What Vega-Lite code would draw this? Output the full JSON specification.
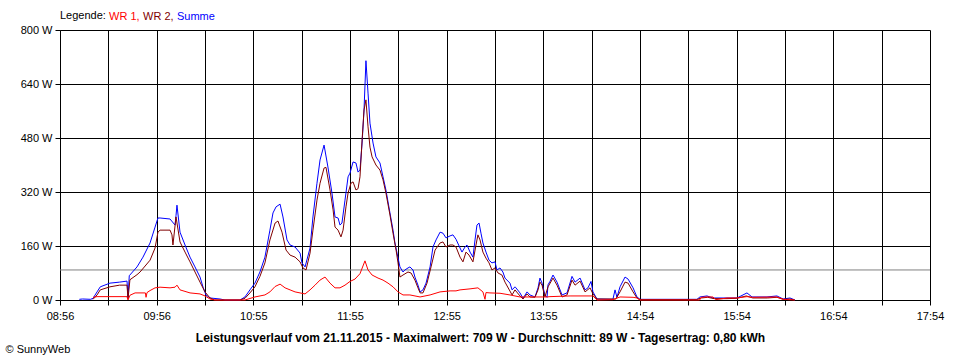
{
  "$schema": "https://vega.github.io/schema/vega-lite/v6.json",
  "width": 870,
  "height": 270,
  "autosize": "none",
  "padding": {"left": 60, "top": 30, "right": 30, "bottom": 60},
  "background": "white",
  "config": {
    "view": {"stroke": null},
    "font": "Liberation Sans",
    "axis": {
      "gridColor": "#000000", "gridOpacity": 1, "gridWidth": 1,
      "domainColor": "#000000", "tickColor": "#000000", "tickSize": 5,
      "labelColor": "#000000", "labelFont": "Liberation Sans", "labelFontSize": 11,
      "titleColor": "#000000", "titleFont": "Liberation Sans", "titleFontSize": 11
    }
  },
  "layer": [
    {
      "data": {"values": [{"avg": 89}]},
      "mark": {"type": "rule", "color": "#808080", "strokeWidth": 1},
      "encoding": {"y": {"field": "avg", "type": "quantitative", "scale": {"domain": [0, 800], "nice": false}}}
    },
    {
      "data": {"values": [
{"t":12,"s":"Summe","w":2},{"t":14,"s":"Summe","w":3},{"t":19,"s":"Summe","w":2},{"t":20.5,"s":"Summe","w":5},{"t":23,"s":"Summe","w":24},{"t":25,"s":"Summe","w":39},{"t":31,"s":"Summe","w":50},{"t":37,"s":"Summe","w":53},{"t":41.6,"s":"Summe","w":56},{"t":42.2,"s":"Summe","w":5},{"t":43,"s":"Summe","w":72},{"t":47.8,"s":"Summe","w":98},{"t":51.5,"s":"Summe","w":127},{"t":55.9,"s":"Summe","w":169},{"t":59,"s":"Summe","w":216},{"t":60.8,"s":"Summe","w":243},{"t":62.1,"s":"Summe","w":243},{"t":68.3,"s":"Summe","w":240},{"t":71.4,"s":"Summe","w":222},{"t":72,"s":"Summe","w":250},{"t":72.6,"s":"Summe","w":281},{"t":74.5,"s":"Summe","w":201},{"t":77.6,"s":"Summe","w":163},{"t":80.7,"s":"Summe","w":127},{"t":83.8,"s":"Summe","w":98},{"t":86.9,"s":"Summe","w":68},{"t":88.8,"s":"Summe","w":38},{"t":90.6,"s":"Summe","w":15},{"t":93.1,"s":"Summe","w":6},{"t":99.3,"s":"Summe","w":3},{"t":102.4,"s":"Summe","w":0},{"t":111.7,"s":"Summe","w":0},{"t":114.8,"s":"Summe","w":9},{"t":117.9,"s":"Summe","w":30},{"t":121,"s":"Summe","w":50},{"t":124.1,"s":"Summe","w":83},{"t":127.2,"s":"Summe","w":127},{"t":130.3,"s":"Summe","w":207},{"t":132.2,"s":"Summe","w":258},{"t":134.1,"s":"Summe","w":276},{"t":136.6,"s":"Summe","w":284},{"t":138.4,"s":"Summe","w":246},{"t":140.9,"s":"Summe","w":178},{"t":142.8,"s":"Summe","w":163},{"t":145.9,"s":"Summe","w":157},{"t":149,"s":"Summe","w":139},{"t":150.2,"s":"Summe","w":110},{"t":152.1,"s":"Summe","w":98},{"t":155.2,"s":"Summe","w":154},{"t":157,"s":"Summe","w":246},{"t":159.5,"s":"Summe","w":346},{"t":161.4,"s":"Summe","w":415},{"t":163.9,"s":"Summe","w":459},{"t":166.3,"s":"Summe","w":394},{"t":168.8,"s":"Summe","w":317},{"t":170.7,"s":"Summe","w":246},{"t":172.6,"s":"Summe","w":243},{"t":173.8,"s":"Summe","w":222},{"t":175,"s":"Summe","w":228},{"t":176.9,"s":"Summe","w":296},{"t":178.8,"s":"Summe","w":365},{"t":180,"s":"Summe","w":376},{"t":181.9,"s":"Summe","w":409},{"t":183.7,"s":"Summe","w":406},{"t":185,"s":"Summe","w":379},{"t":186.2,"s":"Summe","w":385},{"t":187.5,"s":"Summe","w":465},{"t":188.7,"s":"Summe","w":563},{"t":189.9,"s":"Summe","w":709},{"t":191.2,"s":"Summe","w":613},{"t":192.4,"s":"Summe","w":524},{"t":194.3,"s":"Summe","w":465},{"t":196.1,"s":"Summe","w":424},{"t":198.6,"s":"Summe","w":406},{"t":200.5,"s":"Summe","w":365},{"t":202.3,"s":"Summe","w":326},{"t":204.8,"s":"Summe","w":258},{"t":206.7,"s":"Summe","w":207},{"t":207.9,"s":"Summe","w":169},{"t":209.2,"s":"Summe","w":139},{"t":211,"s":"Summe","w":98},{"t":212.9,"s":"Summe","w":83},{"t":214.1,"s":"Summe","w":89},{"t":216,"s":"Summe","w":95},{"t":217.2,"s":"Summe","w":98},{"t":219.1,"s":"Summe","w":89},{"t":220.3,"s":"Summe","w":68},{"t":222.2,"s":"Summe","w":44},{"t":223.5,"s":"Summe","w":24},{"t":225.3,"s":"Summe","w":30},{"t":227.2,"s":"Summe","w":50},{"t":229.7,"s":"Summe","w":98},{"t":231.5,"s":"Summe","w":157},{"t":233.4,"s":"Summe","w":178},{"t":235.9,"s":"Summe","w":201},{"t":237.7,"s":"Summe","w":198},{"t":239.6,"s":"Summe","w":184},{"t":242.1,"s":"Summe","w":190},{"t":243.9,"s":"Summe","w":193},{"t":245.8,"s":"Summe","w":180},{"t":248.3,"s":"Summe","w":154},{"t":249.5,"s":"Summe","w":142},{"t":251.4,"s":"Summe","w":157},{"t":252.6,"s":"Summe","w":163},{"t":254.5,"s":"Summe","w":142},{"t":256.3,"s":"Summe","w":127},{"t":257.6,"s":"Summe","w":178},{"t":258.8,"s":"Summe","w":222},{"t":260.1,"s":"Summe","w":228},{"t":261.3,"s":"Summe","w":198},{"t":262.5,"s":"Summe","w":169},{"t":264.4,"s":"Summe","w":142},{"t":266.3,"s":"Summe","w":118},{"t":268.1,"s":"Summe","w":110},{"t":270,"s":"Summe","w":113},{"t":271.2,"s":"Summe","w":89},{"t":273.1,"s":"Summe","w":95},{"t":274.9,"s":"Summe","w":83},{"t":276.2,"s":"Summe","w":65},{"t":279.3,"s":"Summe","w":50},{"t":280.6,"s":"Summe","w":30},{"t":282.4,"s":"Summe","w":39},{"t":283,"s":"Summe","w":36},{"t":285.5,"s":"Summe","w":21},{"t":287.4,"s":"Summe","w":5},{"t":289.9,"s":"Summe","w":24},{"t":291.7,"s":"Summe","w":15},{"t":294.8,"s":"Summe","w":9},{"t":296.7,"s":"Summe","w":36},{"t":297.9,"s":"Summe","w":65},{"t":299.2,"s":"Summe","w":50},{"t":301,"s":"Summe","w":15},{"t":302.3,"s":"Summe","w":8},{"t":302.9,"s":"Summe","w":45},{"t":304.1,"s":"Summe","w":55},{"t":306,"s":"Summe","w":74},{"t":308.5,"s":"Summe","w":53},{"t":311.6,"s":"Summe","w":15},{"t":314.7,"s":"Summe","w":21},{"t":317.8,"s":"Summe","w":70},{"t":319.7,"s":"Summe","w":53},{"t":322.8,"s":"Summe","w":65},{"t":325.9,"s":"Summe","w":30},{"t":327.7,"s":"Summe","w":36},{"t":329.6,"s":"Summe","w":55},{"t":330.8,"s":"Summe","w":24},{"t":333.3,"s":"Summe","w":3},{"t":343.2,"s":"Summe","w":2},{"t":344.5,"s":"Summe","w":30},{"t":345.7,"s":"Summe","w":8},{"t":347.6,"s":"Summe","w":39},{"t":350.7,"s":"Summe","w":68},{"t":352.6,"s":"Summe","w":62},{"t":355.7,"s":"Summe","w":36},{"t":358.1,"s":"Summe","w":9},{"t":360,"s":"Summe","w":2},{"t":395.4,"s":"Summe","w":2},{"t":397.2,"s":"Summe","w":9},{"t":401.6,"s":"Summe","w":12},{"t":405.3,"s":"Summe","w":6},{"t":414,"s":"Summe","w":6},{"t":420.2,"s":"Summe","w":6},{"t":426.4,"s":"Summe","w":21},{"t":429.5,"s":"Summe","w":9},{"t":432.6,"s":"Summe","w":9},{"t":438.8,"s":"Summe","w":9},{"t":445,"s":"Summe","w":12},{"t":448.8,"s":"Summe","w":3},{"t":453.1,"s":"Summe","w":6},{"t":456.2,"s":"Summe","w":0},
{"t":20.5,"s":"WR 2","w":2},{"t":23,"s":"WR 2","w":15},{"t":25,"s":"WR 2","w":30},{"t":31,"s":"WR 2","w":39},{"t":37,"s":"WR 2","w":44},{"t":41.6,"s":"WR 2","w":44},{"t":42.2,"s":"WR 2","w":3},{"t":43.4,"s":"WR 2","w":60},{"t":47.8,"s":"WR 2","w":75},{"t":49.7,"s":"WR 2","w":83},{"t":55.9,"s":"WR 2","w":118},{"t":59,"s":"WR 2","w":154},{"t":60.8,"s":"WR 2","w":201},{"t":62.1,"s":"WR 2","w":207},{"t":68.3,"s":"WR 2","w":207},{"t":69.5,"s":"WR 2","w":193},{"t":70.1,"s":"WR 2","w":163},{"t":72,"s":"WR 2","w":246},{"t":74.5,"s":"WR 2","w":172},{"t":77.6,"s":"WR 2","w":142},{"t":80.7,"s":"WR 2","w":113},{"t":83.8,"s":"WR 2","w":83},{"t":86.9,"s":"WR 2","w":53},{"t":90,"s":"WR 2","w":24},{"t":93.1,"s":"WR 2","w":6},{"t":96,"s":"WR 2","w":0},{"t":111.7,"s":"WR 2","w":0},{"t":114.8,"s":"WR 2","w":5},{"t":117.9,"s":"WR 2","w":21},{"t":121,"s":"WR 2","w":39},{"t":124.1,"s":"WR 2","w":70},{"t":127.2,"s":"WR 2","w":110},{"t":130.3,"s":"WR 2","w":178},{"t":133.5,"s":"WR 2","w":228},{"t":135.3,"s":"WR 2","w":234},{"t":137.8,"s":"WR 2","w":201},{"t":140.3,"s":"WR 2","w":148},{"t":142.8,"s":"WR 2","w":133},{"t":145.9,"s":"WR 2","w":127},{"t":149,"s":"WR 2","w":113},{"t":150.8,"s":"WR 2","w":95},{"t":152.7,"s":"WR 2","w":89},{"t":155.2,"s":"WR 2","w":139},{"t":157,"s":"WR 2","w":207},{"t":159.5,"s":"WR 2","w":296},{"t":161.4,"s":"WR 2","w":346},{"t":163.9,"s":"WR 2","w":391},{"t":165.1,"s":"WR 2","w":393},{"t":167.6,"s":"WR 2","w":326},{"t":169.5,"s":"WR 2","w":267},{"t":170.7,"s":"WR 2","w":216},{"t":172.6,"s":"WR 2","w":207},{"t":174.4,"s":"WR 2","w":187},{"t":175.7,"s":"WR 2","w":207},{"t":177.5,"s":"WR 2","w":276},{"t":178.8,"s":"WR 2","w":317},{"t":180.6,"s":"WR 2","w":346},{"t":181.9,"s":"WR 2","w":350},{"t":183.7,"s":"WR 2","w":326},{"t":185,"s":"WR 2","w":330},{"t":186.2,"s":"WR 2","w":365},{"t":187.5,"s":"WR 2","w":474},{"t":188.7,"s":"WR 2","w":563},{"t":189.9,"s":"WR 2","w":593},{"t":191.2,"s":"WR 2","w":513},{"t":192.4,"s":"WR 2","w":453},{"t":193.7,"s":"WR 2","w":424},{"t":196.1,"s":"WR 2","w":400},{"t":198.6,"s":"WR 2","w":385},{"t":200.5,"s":"WR 2","w":356},{"t":202.3,"s":"WR 2","w":317},{"t":204.8,"s":"WR 2","w":252},{"t":206.7,"s":"WR 2","w":198},{"t":208.6,"s":"WR 2","w":148},{"t":209.8,"s":"WR 2","w":110},{"t":211,"s":"WR 2","w":68},{"t":212.9,"s":"WR 2","w":74},{"t":216,"s":"WR 2","w":83},{"t":217.9,"s":"WR 2","w":80},{"t":220.3,"s":"WR 2","w":59},{"t":222.2,"s":"WR 2","w":36},{"t":223.5,"s":"WR 2","w":21},{"t":225.3,"s":"WR 2","w":21},{"t":227.8,"s":"WR 2","w":50},{"t":230.3,"s":"WR 2","w":98},{"t":232.8,"s":"WR 2","w":148},{"t":235.9,"s":"WR 2","w":169},{"t":237.7,"s":"WR 2","w":172},{"t":239.6,"s":"WR 2","w":157},{"t":242.1,"s":"WR 2","w":163},{"t":243.9,"s":"WR 2","w":163},{"t":245.8,"s":"WR 2","w":157},{"t":248.3,"s":"WR 2","w":127},{"t":250.1,"s":"WR 2","w":113},{"t":252,"s":"WR 2","w":142},{"t":253.9,"s":"WR 2","w":133},{"t":256.3,"s":"WR 2","w":113},{"t":258.2,"s":"WR 2","w":163},{"t":259.4,"s":"WR 2","w":193},{"t":260.7,"s":"WR 2","w":178},{"t":262.5,"s":"WR 2","w":142},{"t":264.4,"s":"WR 2","w":124},{"t":266.3,"s":"WR 2","w":110},{"t":268.1,"s":"WR 2","w":89},{"t":270,"s":"WR 2","w":95},{"t":271.9,"s":"WR 2","w":80},{"t":274.3,"s":"WR 2","w":74},{"t":276.2,"s":"WR 2","w":53},{"t":280.6,"s":"WR 2","w":15},{"t":282.4,"s":"WR 2","w":30},{"t":285.5,"s":"WR 2","w":12},{"t":287.4,"s":"WR 2","w":3},{"t":289.9,"s":"WR 2","w":18},{"t":291.7,"s":"WR 2","w":9},{"t":294.8,"s":"WR 2","w":8},{"t":296.7,"s":"WR 2","w":30},{"t":297.9,"s":"WR 2","w":53},{"t":299.2,"s":"WR 2","w":44},{"t":301,"s":"WR 2","w":9},{"t":302.9,"s":"WR 2","w":39},{"t":306,"s":"WR 2","w":65},{"t":308.5,"s":"WR 2","w":44},{"t":311.6,"s":"WR 2","w":9},{"t":314.7,"s":"WR 2","w":15},{"t":317.8,"s":"WR 2","w":59},{"t":319.7,"s":"WR 2","w":44},{"t":322.8,"s":"WR 2","w":56},{"t":325.9,"s":"WR 2","w":24},{"t":329,"s":"WR 2","w":36},{"t":330.8,"s":"WR 2","w":18},{"t":333.3,"s":"WR 2","w":3},{"t":345,"s":"WR 2","w":3},{"t":347.6,"s":"WR 2","w":24},{"t":350.7,"s":"WR 2","w":53},{"t":352.6,"s":"WR 2","w":50},{"t":355.7,"s":"WR 2","w":24},{"t":358.1,"s":"WR 2","w":6},{"t":360,"s":"WR 2","w":1},{"t":395,"s":"WR 2","w":1},{"t":398,"s":"WR 2","w":6},{"t":402,"s":"WR 2","w":8},{"t":406,"s":"WR 2","w":4},{"t":414,"s":"WR 2","w":4},{"t":420,"s":"WR 2","w":5},{"t":426,"s":"WR 2","w":12},{"t":430,"s":"WR 2","w":6},{"t":439,"s":"WR 2","w":6},{"t":445,"s":"WR 2","w":8},{"t":449,"s":"WR 2","w":2},{"t":453,"s":"WR 2","w":3},{"t":456,"s":"WR 2","w":0},
{"t":20.5,"s":"WR 1","w":8},{"t":23,"s":"WR 1","w":10},{"t":41.6,"s":"WR 1","w":10},{"t":42.2,"s":"WR 1","w":0},{"t":43.4,"s":"WR 1","w":14},{"t":46.6,"s":"WR 1","w":21},{"t":53,"s":"WR 1","w":21},{"t":53.4,"s":"WR 1","w":8},{"t":54,"s":"WR 1","w":22},{"t":55.9,"s":"WR 1","w":28},{"t":59,"s":"WR 1","w":36},{"t":62.1,"s":"WR 1","w":38},{"t":68.3,"s":"WR 1","w":36},{"t":71.4,"s":"WR 1","w":38},{"t":72.6,"s":"WR 1","w":44},{"t":74.5,"s":"WR 1","w":30},{"t":80.7,"s":"WR 1","w":21},{"t":86.9,"s":"WR 1","w":18},{"t":90,"s":"WR 1","w":12},{"t":93.1,"s":"WR 1","w":3},{"t":96,"s":"WR 1","w":0},{"t":114.8,"s":"WR 1","w":0},{"t":121,"s":"WR 1","w":9},{"t":127.2,"s":"WR 1","w":15},{"t":130.3,"s":"WR 1","w":24},{"t":133.5,"s":"WR 1","w":40},{"t":136.6,"s":"WR 1","w":47},{"t":139.7,"s":"WR 1","w":36},{"t":142.8,"s":"WR 1","w":30},{"t":145.9,"s":"WR 1","w":24},{"t":149,"s":"WR 1","w":21},{"t":152.1,"s":"WR 1","w":18},{"t":155.2,"s":"WR 1","w":30},{"t":158.3,"s":"WR 1","w":44},{"t":161.4,"s":"WR 1","w":59},{"t":164.5,"s":"WR 1","w":68},{"t":167.6,"s":"WR 1","w":50},{"t":170.7,"s":"WR 1","w":36},{"t":173.8,"s":"WR 1","w":36},{"t":176.9,"s":"WR 1","w":44},{"t":180,"s":"WR 1","w":55},{"t":183.1,"s":"WR 1","w":62},{"t":186.2,"s":"WR 1","w":78},{"t":189.3,"s":"WR 1","w":116},{"t":191.2,"s":"WR 1","w":89},{"t":193.7,"s":"WR 1","w":74},{"t":197.4,"s":"WR 1","w":65},{"t":200.5,"s":"WR 1","w":59},{"t":203.6,"s":"WR 1","w":50},{"t":206.7,"s":"WR 1","w":39},{"t":209.8,"s":"WR 1","w":24},{"t":212.9,"s":"WR 1","w":15},{"t":217.2,"s":"WR 1","w":15},{"t":223.5,"s":"WR 1","w":9},{"t":229.7,"s":"WR 1","w":15},{"t":235.9,"s":"WR 1","w":24},{"t":242.1,"s":"WR 1","w":27},{"t":245.8,"s":"WR 1","w":27},{"t":248.3,"s":"WR 1","w":30},{"t":254.5,"s":"WR 1","w":33},{"t":259.4,"s":"WR 1","w":36},{"t":262.5,"s":"WR 1","w":24},{"t":263.8,"s":"WR 1","w":2},{"t":264.4,"s":"WR 1","w":22},{"t":266.9,"s":"WR 1","w":21},{"t":273.1,"s":"WR 1","w":20},{"t":279.3,"s":"WR 1","w":15},{"t":285.5,"s":"WR 1","w":9},{"t":302.3,"s":"WR 1","w":9},{"t":304.1,"s":"WR 1","w":10},{"t":316.6,"s":"WR 1","w":12},{"t":330.8,"s":"WR 1","w":12},{"t":333.3,"s":"WR 1","w":0},{"t":343.2,"s":"WR 1","w":1},{"t":347.6,"s":"WR 1","w":9},{"t":355.7,"s":"WR 1","w":8},{"t":358.1,"s":"WR 1","w":6},{"t":360,"s":"WR 1","w":0},{"t":397,"s":"WR 1","w":0},{"t":398,"s":"WR 1","w":8},{"t":401.6,"s":"WR 1","w":9},{"t":405.3,"s":"WR 1","w":9},{"t":407,"s":"WR 1","w":1},{"t":414,"s":"WR 1","w":6},{"t":420.2,"s":"WR 1","w":6},{"t":426.4,"s":"WR 1","w":10},{"t":430,"s":"WR 1","w":8},{"t":445,"s":"WR 1","w":9},{"t":448.8,"s":"WR 1","w":2},{"t":456,"s":"WR 1","w":0}
      ]},
      "mark": {"type": "line", "strokeWidth": 1, "interpolate": "linear"},
      "encoding": {
        "x": {
          "field": "t", "type": "quantitative",
          "scale": {"domain": [0, 540], "nice": false, "zero": false},
          "axis": {
            "values": [0,30,60,90,120,150,180,210,240,270,300,330,360,390,420,450,480,510,540],
            "labelExpr": "datum.value % 60 == 0 ? ['08:56','09:56','10:55','11:55','12:55','13:55','14:54','15:54','16:54','17:54'][datum.value / 60] : ''",
            "labelFlush": false, "labelOverlap": false, "labelPadding": 5,
            "title": "Leistungsverlauf vom 21.11.2015 - Maximalwert: 709 W - Durchschnitt: 89 W - Tagesertrag: 0,80 kWh",
            "titleFontWeight": "bold", "titleFontSize": 12, "titleX": 420, "titleY": 37, "titleAlign": "center", "titleBaseline": "middle", "titleAnchor": null
          }
        },
        "y": {
          "field": "w", "type": "quantitative",
          "scale": {"domain": [0, 800], "nice": false},
          "axis": {
            "values": [0,160,320,480,640,800],
            "labelExpr": "datum.value + ' W'",
            "labelPadding": 3,
            "title": "© SunnyWeb", "titleFontWeight": "normal", "titleAngle": 0,
            "titleX": -55, "titleY": 319, "titleAlign": "left", "titleBaseline": "middle"
          }
        },
        "color": {
          "field": "s", "type": "nominal",
          "scale": {"domain": ["WR 1", "WR 2", "Summe"], "range": ["#ff0000", "#800000", "#0000ff"]},
          "legend": {
            "orient": "none", "legendX": 0, "legendY": -19,
            "direction": "horizontal",
            "title": "Legende:", "titleOrient": "left", "titleFontWeight": "normal", "titleFontSize": 11, "titleColor": "#000000", "titleFont": "Liberation Sans", "titlePadding": 4,
            "labelFontSize": 11, "labelFont": "Liberation Sans",
            "labelExpr": "datum.label == 'Summe' ? datum.label : datum.label + ','",
            "symbolSize": 0, "symbolStrokeWidth": 0, "symbolOpacity": 0, "labelOffset": -12, "columnPadding": 3,
            "encode": {"labels": {"update": {"fill": {"scale": "color", "field": "value"}}}}
          }
        }
      }
    }
  ]
}
